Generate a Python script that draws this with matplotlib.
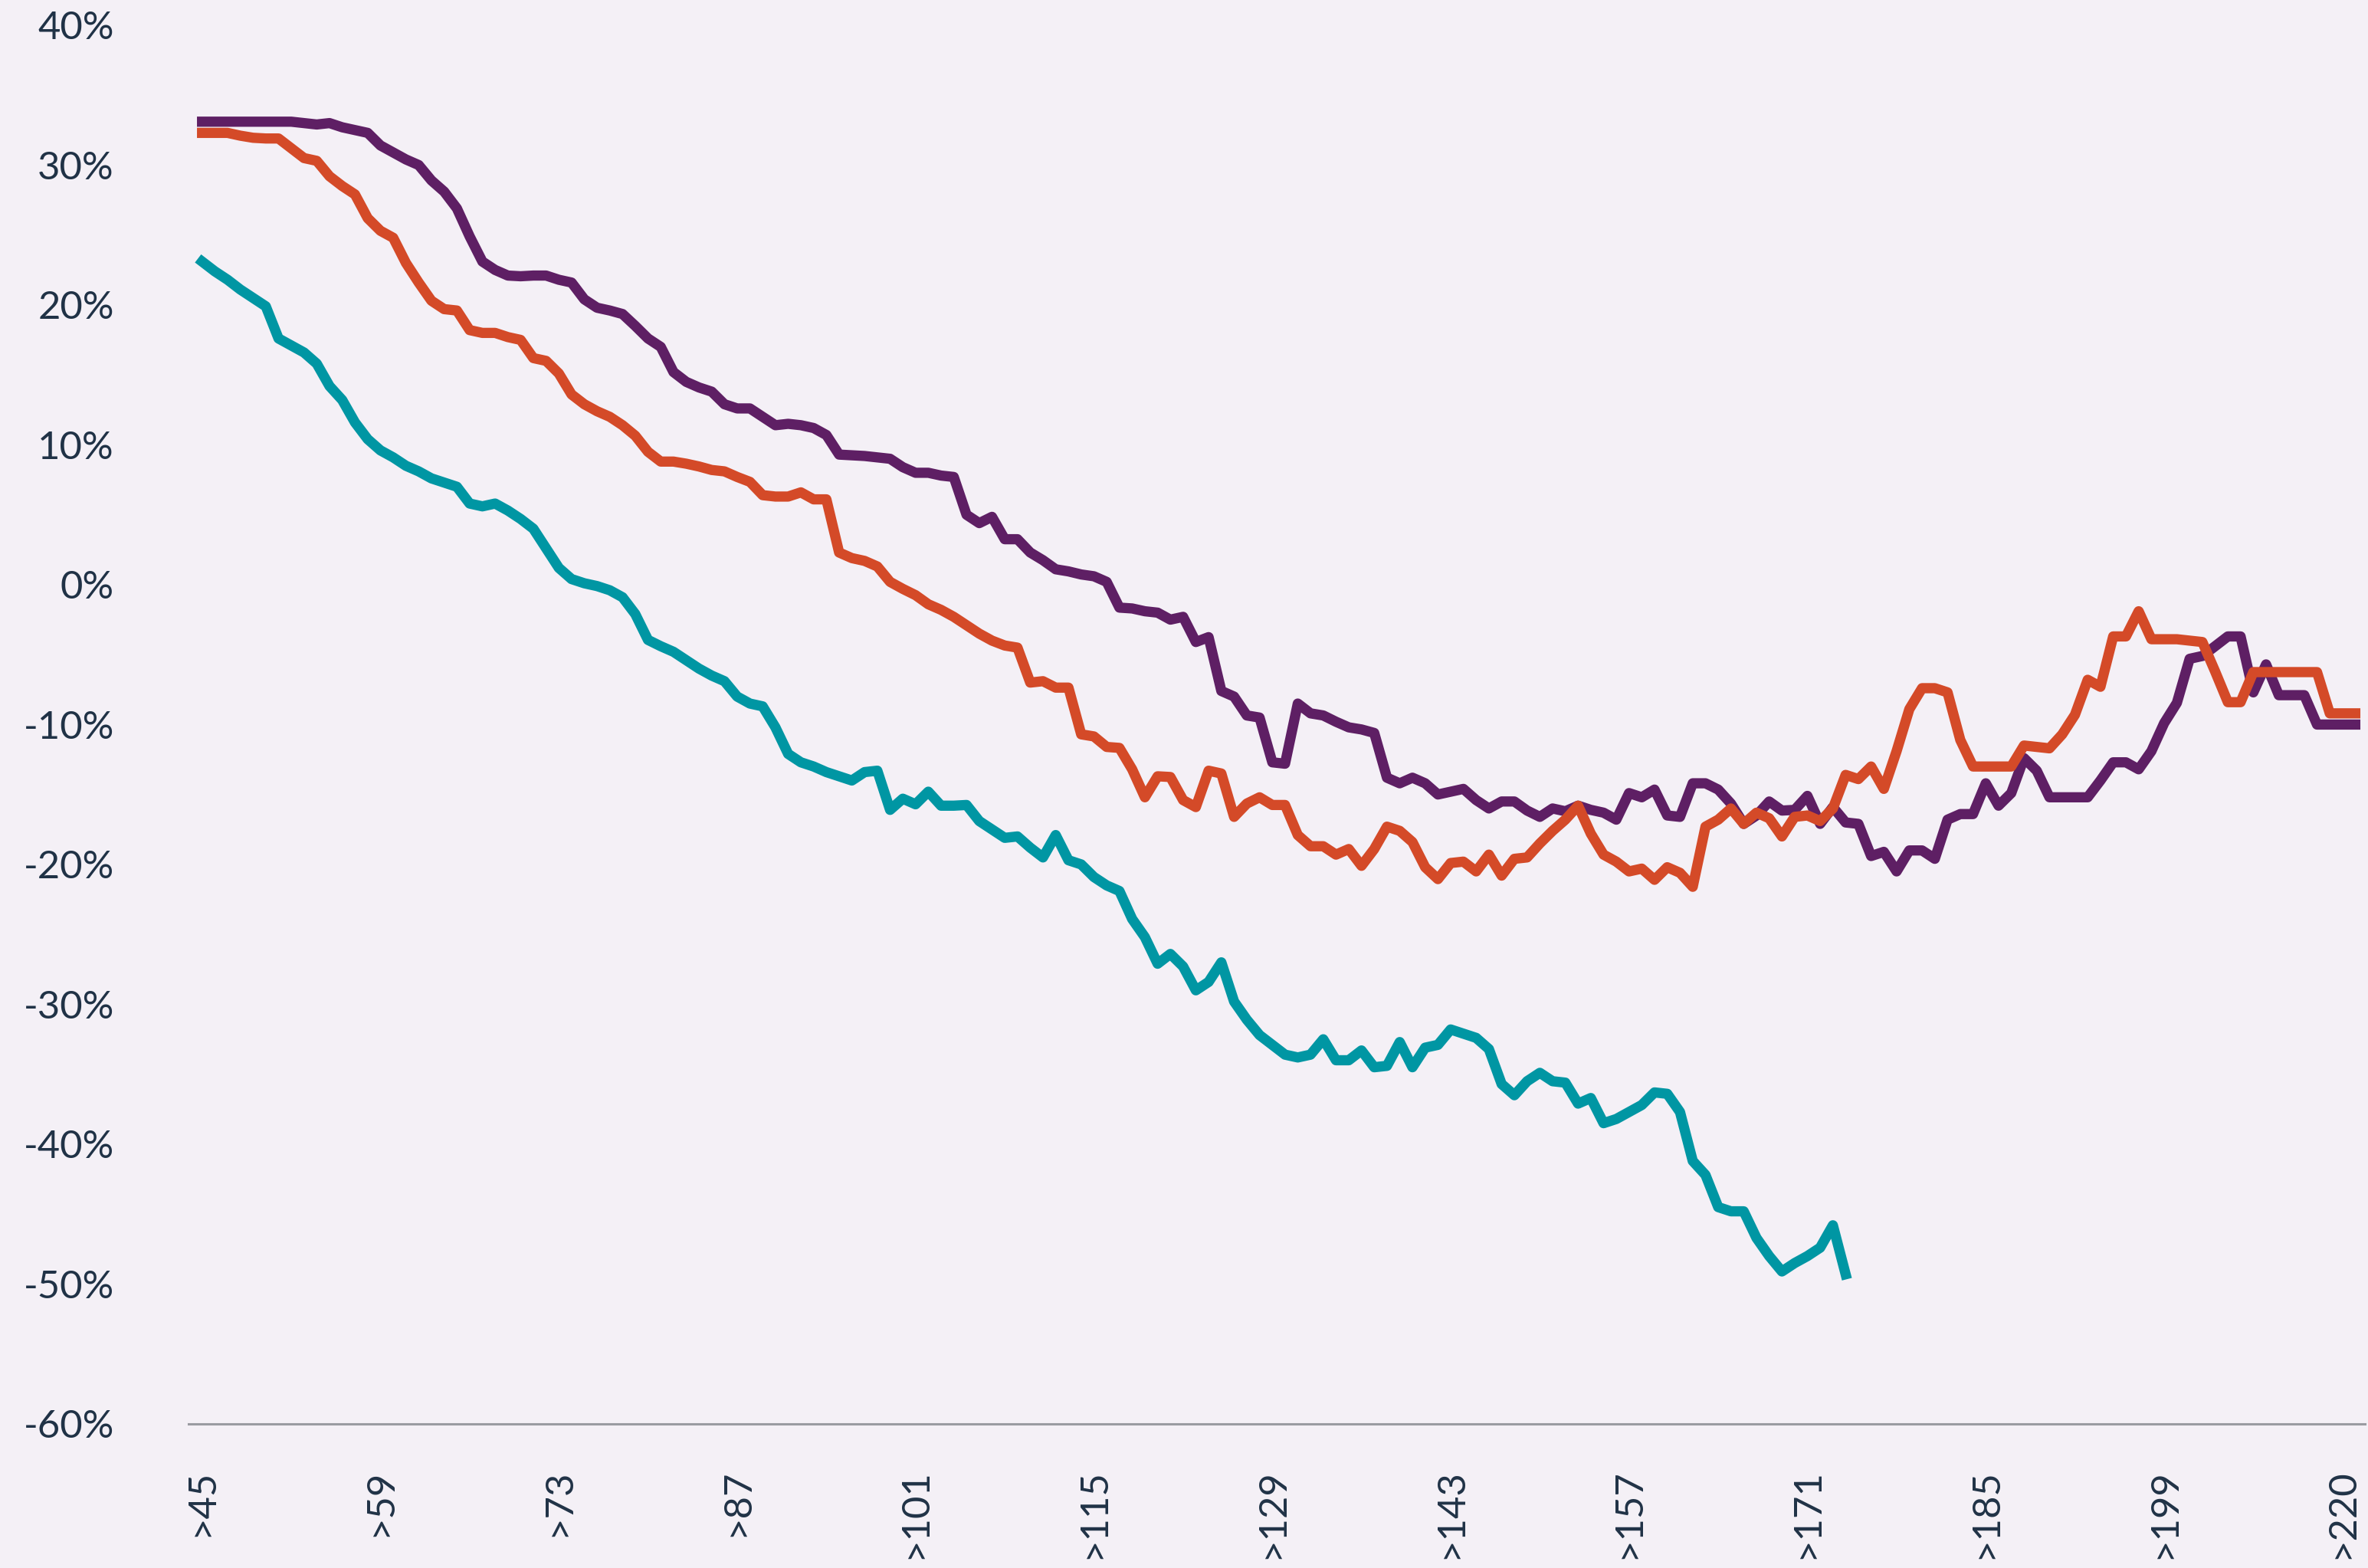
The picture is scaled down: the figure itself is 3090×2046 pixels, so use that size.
import numpy as np
import matplotlib
matplotlib.use("Agg")
import matplotlib.pyplot as plt

# values in %, one per category (>45 ... >220)
purple = [
    33.1, 33.1, 33.1, 33.1, 33.1, 33.1, 33.1, 33.1, 33.0, 32.9,
    33.0, 32.7, 32.5, 32.3, 31.4, 30.9, 30.4, 30.0, 28.9, 28.1,
    26.9, 24.9, 23.1, 22.5, 22.1, 22.05, 22.1, 22.1, 21.8, 21.6,
    20.4, 19.8, 19.6, 19.35, 18.5, 17.6, 17.0, 15.2, 14.5, 14.1,
    13.8, 12.9, 12.6, 12.6, 12.0, 11.4, 11.5, 11.4, 11.2, 10.7,
    9.3, 9.25, 9.2, 9.1, 9.0, 8.4, 8.0, 8.0, 7.8, 7.7,
    5.0, 4.4, 4.85, 3.25, 3.25, 2.3, 1.75, 1.1, 0.95, 0.73,
    0.6, 0.2, -1.64, -1.7, -1.9, -2.0, -2.5, -2.3, -4.1, -3.75,
    -7.6, -8.0, -9.35, -9.5, -12.7, -12.8, -8.5, -9.2, -9.35, -9.8,
    -10.2, -10.35, -10.6, -13.8, -14.2, -13.8, -14.2, -15.0, -14.8, -14.6,
    -15.4, -16.0, -15.5, -15.5, -16.15, -16.6, -16.0, -16.2, -15.8, -16.1,
    -16.3, -16.8, -14.9, -15.2, -14.65, -16.5, -16.6, -14.2, -14.2, -14.65,
    -15.65, -17.1, -16.5, -15.5, -16.15, -16.1, -15.1, -17.1, -15.9, -17.0,
    -17.1, -19.4, -19.1, -20.5, -19.0, -19.0, -19.6, -16.8, -16.4, -16.4,
    -14.2, -15.8, -14.9, -12.4, -13.3, -15.2, -15.2, -15.2, -15.2, -14.0,
    -12.7, -12.7, -13.2, -11.9, -9.9, -8.45, -5.3, -5.1, -4.4, -3.7,
    -3.7, -7.7, -5.7, -7.9, -7.9, -7.9, -10.0, -10.0, -10.0, -10.0,
]

orange = [
    32.3, 32.3, 32.3, 32.1, 31.95, 31.9, 31.9, 31.2, 30.5, 30.3,
    29.2, 28.5, 27.9, 26.2, 25.3, 24.8, 23.0, 21.6, 20.3, 19.7,
    19.6, 18.2, 18.0, 18.0, 17.7, 17.5, 16.2, 16.0, 15.1, 13.6,
    12.9, 12.4, 12.0, 11.4, 10.65, 9.5, 8.8, 8.8, 8.65, 8.45,
    8.2, 8.1, 7.7, 7.35, 6.4, 6.3, 6.3, 6.6, 6.1, 6.1,
    2.3, 1.9, 1.7, 1.3, 0.2, -0.3, -0.75, -1.4, -1.8, -2.3,
    -2.9, -3.5, -4.0, -4.35, -4.5, -7.0, -6.9, -7.36, -7.36, -10.7,
    -10.85, -11.6, -11.67, -13.2, -15.2, -13.7, -13.75, -15.4, -15.9, -13.3,
    -13.5, -16.6, -15.65, -15.2, -15.75, -15.75, -17.9, -18.7, -18.7, -19.3,
    -18.9, -20.1, -18.9, -17.3, -17.6, -18.4, -20.2, -21.05, -19.9, -19.8,
    -20.5, -19.3, -20.8, -19.6, -19.5, -18.5, -17.6, -16.8, -15.8, -17.8,
    -19.3, -19.8, -20.5, -20.3, -21.1, -20.2, -20.6, -21.6, -17.3, -16.8,
    -16.0, -17.1, -16.3, -16.7, -18.0, -16.6, -16.5, -16.9, -16.0, -13.6,
    -13.9, -13.0, -14.6, -11.9, -8.9, -7.4, -7.4, -7.7, -11.1, -13.0,
    -13.0, -13.0, -13.0, -11.5, -11.6, -11.7, -10.7, -9.3, -6.8, -7.3,
    -3.7, -3.7, -1.9, -3.9, -3.9, -3.9, -4.0, -4.1, -6.2, -8.4,
    -8.4, -6.25, -6.25, -6.25, -6.25, -6.25, -6.25, -9.2, -9.2, -9.2,
]

# teal stops after 130 categories
teal = [
    23.1, 22.4, 21.8, 21.1, 20.5, 19.9, 17.6, 17.1, 16.6, 15.8,
    14.2, 13.2, 11.6, 10.4, 9.6, 9.1, 8.5, 8.1, 7.6, 7.3,
    7.0, 5.8, 5.6, 5.8, 5.3, 4.7, 4.0, 2.6, 1.2, 0.4,
    0.1, -0.1, -0.4, -0.9, -2.1, -3.95, -4.4, -4.8, -5.4, -6.0,
    -6.5, -6.9, -8.0, -8.5, -8.7, -10.2, -12.1, -12.7, -13.0, -13.4,
    -13.7, -14.0, -13.4, -13.3, -16.1, -15.3, -15.7, -14.8, -15.8, -15.8,
    -15.75, -16.9, -17.5, -18.1, -18.0, -18.8, -19.5, -17.9, -19.7, -20.0,
    -20.9, -21.5, -21.9, -23.9, -25.2, -27.1, -26.4, -27.3, -29.0, -28.4,
    -27.0, -29.8, -31.1, -32.2, -32.9, -33.6, -33.8, -33.6, -32.5, -34.0,
    -34.0, -33.3, -34.5, -34.4, -32.7, -34.5, -33.1, -32.9, -31.8, -32.1,
    -32.4, -33.2, -35.7, -36.5, -35.5, -34.9, -35.5, -35.6, -37.1, -36.7,
    -38.5, -38.2, -37.7, -37.2, -36.3, -36.4, -37.7, -41.2, -42.2, -44.5,
    -44.8, -44.8, -46.7, -48.0, -49.1, -48.5, -48.0, -47.4, -45.8, -49.3,
]

tick_labels = [">45", ">59", ">73", ">87", ">101", ">115", ">129",
               ">143", ">157", ">171", ">185", ">199", ">220"]
tick_index = [0, 14, 28, 42, 56, 70, 84, 98, 112, 126, 140, 154, 168]
y_ticks = [40, 30, 20, 10, 0, -10, -20, -30, -40, -50, -60]

BG = "#f4f0f6"
TXT = "#203246"
FS = 36.5

plt.rcParams["font.family"] = ["Lato", "DejaVu Sans"]

fig = plt.figure(figsize=(30.9, 20.46), dpi=100, facecolor=BG)
ax = fig.add_axes([246 / 3090, 188 / 2046, (3086 - 246) / 3090, 1858 / 2046])
ax.set_facecolor(BG)

# dotted zero line
ax.axhline(0, color="#d8d8dd", lw=5, linestyle=(0, (0, 3.5)),
           dash_capstyle="round", zorder=1)

for vals, col in ((purple, "#5e1f64"), (orange, "#d44a28"), (teal, "#0096a3")):
    ax.plot(np.arange(len(vals)), vals, color=col, lw=9.6,
            solid_capstyle="projecting", solid_joinstyle="round", zorder=3)

ax.set_xlim(-1.065, 169.76)
ax.set_ylim(-60, 41.8)

for s in ["top", "right", "left"]:
    ax.spines[s].set_visible(False)
ax.spines["bottom"].set_color("#9a9ba1")
ax.spines["bottom"].set_linewidth(2.2)

ax.set_yticks(y_ticks)
ax.set_yticklabels([f"{v}%" for v in y_ticks])
ax.tick_params(axis="y", length=0, pad=70, labelsize=FS, labelcolor=TXT)

ax.set_xticks(tick_index)
ax.set_xticklabels(tick_labels, rotation=90)
ax.tick_params(axis="x", length=0, pad=42, labelsize=FS, labelcolor=TXT)

fig.savefig("out.png", dpi=100, facecolor=BG)
